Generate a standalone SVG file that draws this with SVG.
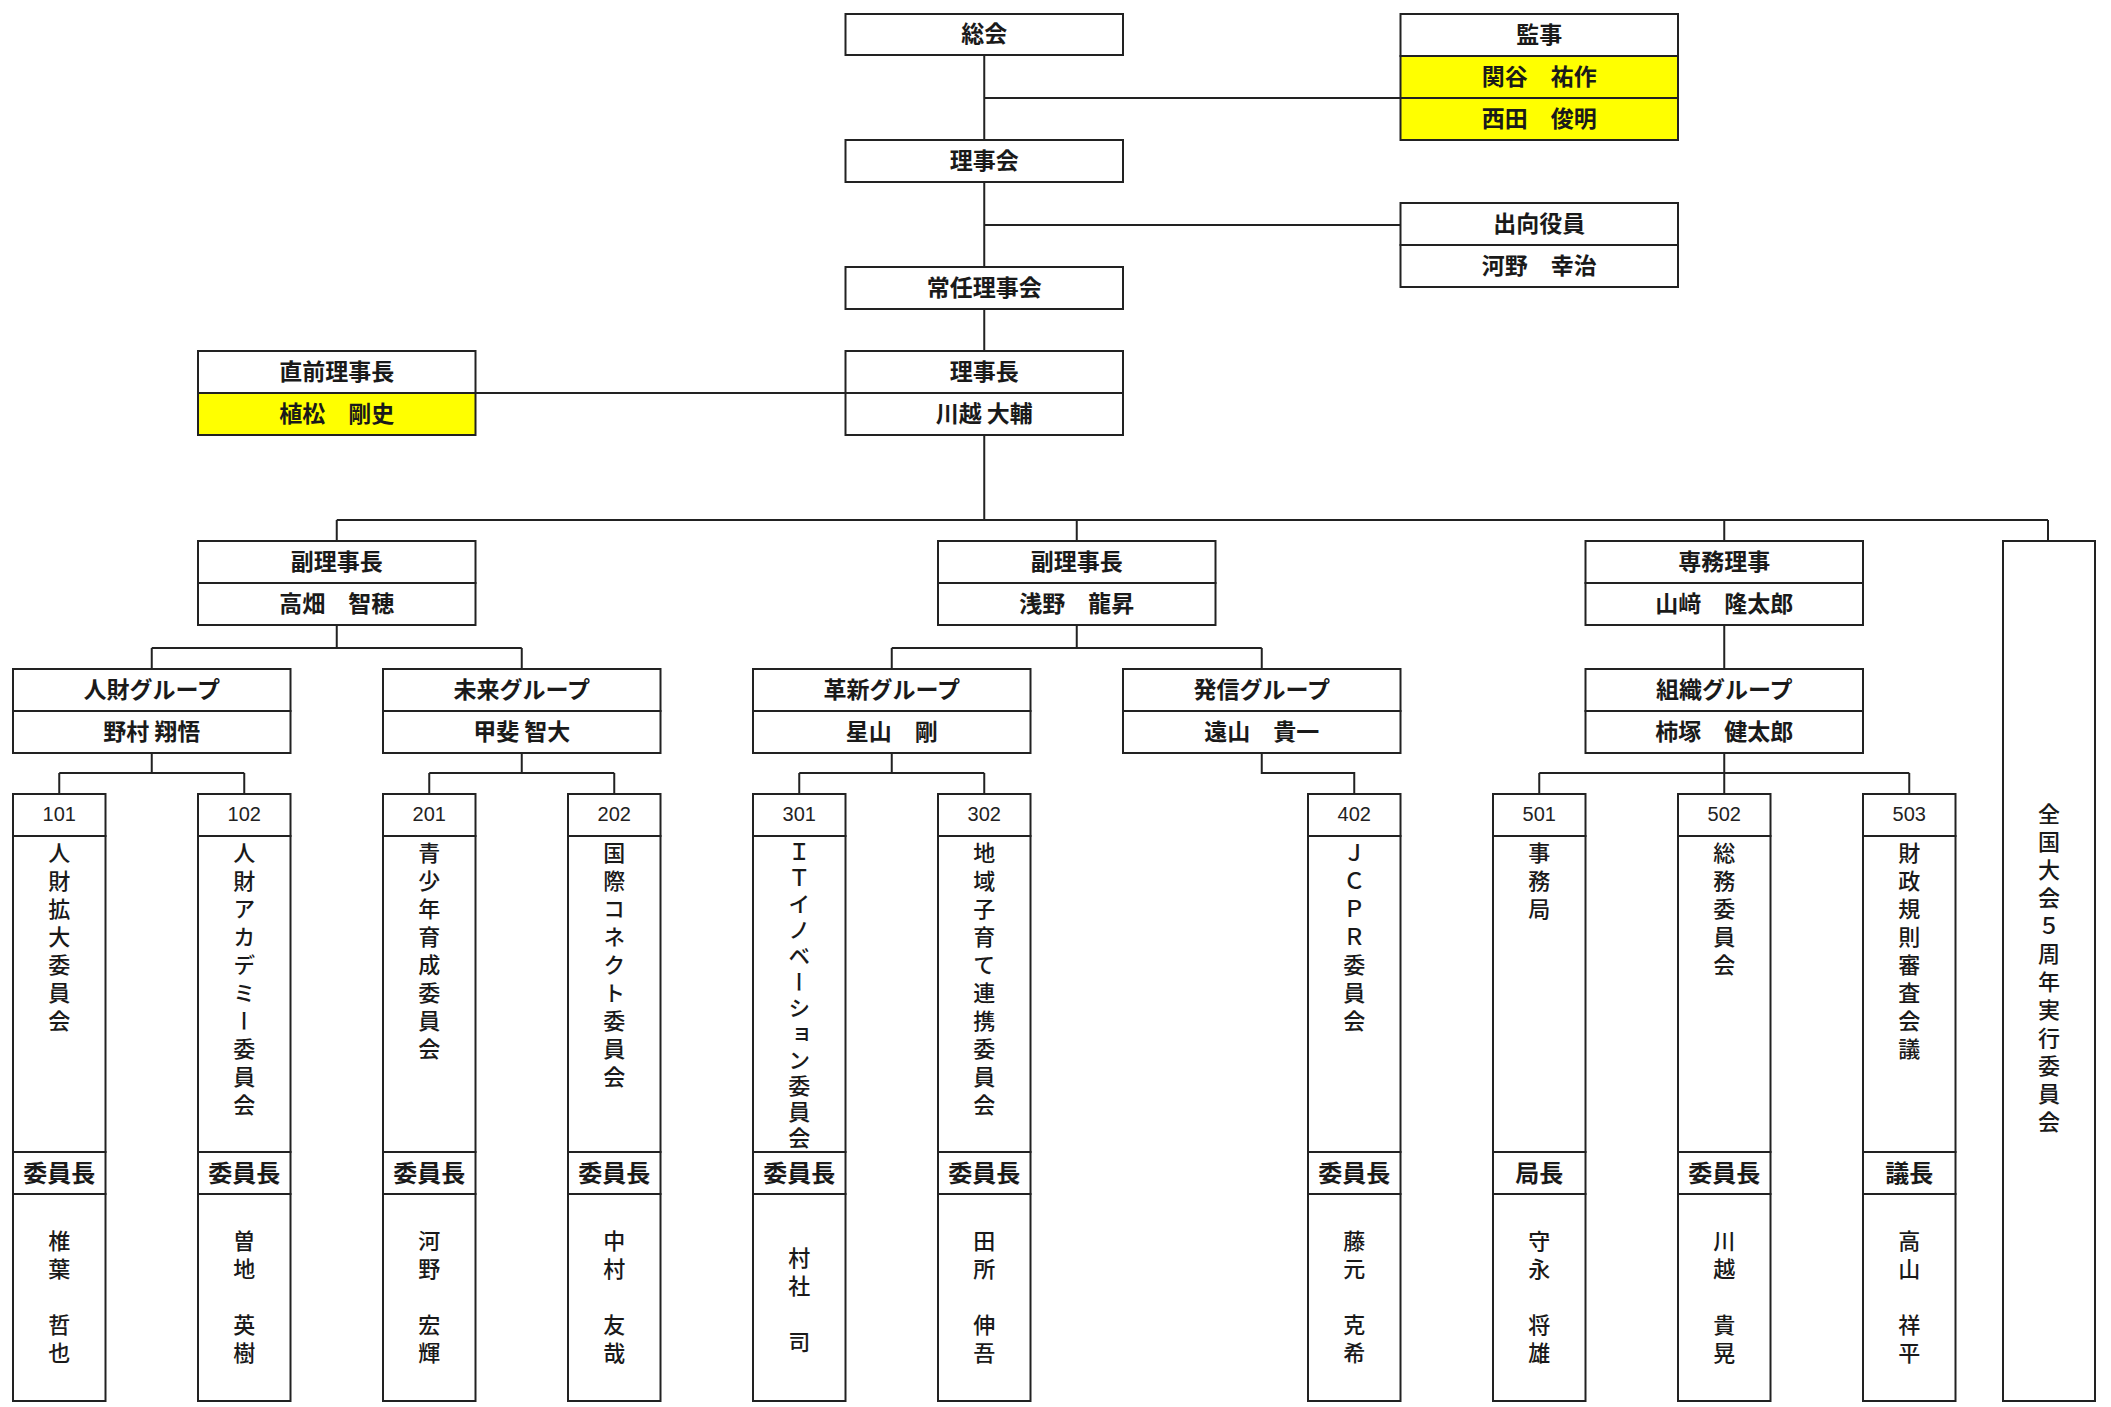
<svg xmlns="http://www.w3.org/2000/svg" width="2111" height="1407" viewBox="0 0 2111 1407">
<style>
.box{fill:#fff;stroke:#222;stroke-width:2}
.yel{fill:#ffff00;stroke:#222;stroke-width:2}
.ln{fill:none;stroke:#222;stroke-width:2}
.t{font-family:"Noto Sans CJK JP","Noto Sans CJK SC",sans-serif;font-size:23px;font-weight:bold;text-anchor:middle;dominant-baseline:central;fill:#1a1a1a}
.c{font-family:"Noto Sans CJK JP","Noto Sans CJK SC",sans-serif;font-size:24px;font-weight:bold;text-anchor:middle;dominant-baseline:central;fill:#1a1a1a}
.n{font-family:"Liberation Sans",Arial,sans-serif;font-size:20px;text-anchor:middle;dominant-baseline:central;fill:#222}
.v{font-family:"Noto Sans CJK JP","Noto Sans CJK SC",sans-serif;font-size:22px;font-weight:500;writing-mode:vertical-rl;letter-spacing:6px;fill:#1a1a1a}
.vm{text-anchor:middle}
.vs{letter-spacing:4px}
</style>
<rect width="2111" height="1407" fill="#fff"/>
<g id="connectors">
<path class="ln" d="M984.25 55V520 M984.25 98H1400.5 M984.25 225H1400.5 M475.5 393H845.5 M336.75 520H2048 M336.75 520V541 M1076.75 520V541 M1724.25 520V541 M2048 520V541"/>
<path class="ln" d="M336.75 625V648 M151.75 648H521.75 M151.75 648V669 M521.75 648V669 M1076.75 625V648 M891.75 648H1261.75 M891.75 648V669 M1261.75 648V669 M1724.25 625V669"/>
<path class="ln" d="M151.75 753V773 M59.25 773H244.25 M59.25 773V794 M244.25 773V794 M521.75 753V773 M429.25 773H614.25 M429.25 773V794 M614.25 773V794 M891.75 753V773 M799.25 773H984.25 M799.25 773V794 M984.25 773V794 M1261.75 753V773H1354.25V794 M1724.25 753V794 M1539.25 773H1909.25 M1539.25 773V794 M1909.25 773V794"/>
</g>
<g id="sokai"><rect class="box" x="845.5" y="14" width="277.5" height="41"/><text class="t" x="984.25" y="32">総会</text></g>
<g id="kanji"><rect class="box" x="1400.5" y="14" width="277.5" height="42"/><rect class="yel" x="1400.5" y="56" width="277.5" height="42"/><rect class="yel" x="1400.5" y="98" width="277.5" height="42"/><text class="t" x="1539.25" y="33">監事</text><text class="t" x="1539.25" y="75">関谷　祐作</text><text class="t" x="1539.25" y="117">西田　俊明</text></g>
<g id="rijikai"><rect class="box" x="845.5" y="140" width="277.5" height="42"/><text class="t" x="984.25" y="159">理事会</text></g>
<g id="shukko"><rect class="box" x="1400.5" y="203" width="277.5" height="42"/><rect class="box" x="1400.5" y="245" width="277.5" height="42"/><text class="t" x="1539.25" y="222">出向役員</text><text class="t" x="1539.25" y="264">河野　幸治</text></g>
<g id="jonin"><rect class="box" x="845.5" y="267" width="277.5" height="42"/><text class="t" x="984.25" y="286">常任理事会</text></g>
<g id="rijicho"><rect class="box" x="845.5" y="351" width="277.5" height="42"/><rect class="box" x="845.5" y="393" width="277.5" height="42"/><text class="t" x="984.25" y="370">理事長</text><text class="t" x="984.25" y="412">川越 大輔</text></g>
<g id="chokuzen"><rect class="box" x="198" y="351" width="277.5" height="42"/><rect class="yel" x="198" y="393" width="277.5" height="42"/><text class="t" x="336.75" y="370">直前理事長</text><text class="t" x="336.75" y="412">植松　剛史</text></g>
<g id="fuku1"><rect class="box" x="198" y="541" width="277.5" height="42"/><rect class="box" x="198" y="583" width="277.5" height="42"/><text class="t" x="336.75" y="560">副理事長</text><text class="t" x="336.75" y="602">高畑　智穂</text></g>
<g id="fuku2"><rect class="box" x="938" y="541" width="277.5" height="42"/><rect class="box" x="938" y="583" width="277.5" height="42"/><text class="t" x="1076.75" y="560">副理事長</text><text class="t" x="1076.75" y="602">浅野　龍昇</text></g>
<g id="senmu"><rect class="box" x="1585.5" y="541" width="277.5" height="42"/><rect class="box" x="1585.5" y="583" width="277.5" height="42"/><text class="t" x="1724.25" y="560">専務理事</text><text class="t" x="1724.25" y="602">山﨑　隆太郎</text></g>
<g id="zenkoku"><rect class="box" x="2003" y="541" width="92" height="860"/><text class="v vm" x="2049" y="971">全国大会５周年実行委員会</text></g>
<g id="g-jinzai"><rect class="box" x="13" y="669" width="277.5" height="42"/><rect class="box" x="13" y="711" width="277.5" height="42"/><text class="t" x="151.75" y="688">人財グループ</text><text class="t" x="151.75" y="730">野村 翔悟</text></g>
<g id="g-mirai"><rect class="box" x="383" y="669" width="277.5" height="42"/><rect class="box" x="383" y="711" width="277.5" height="42"/><text class="t" x="521.75" y="688">未来グループ</text><text class="t" x="521.75" y="730">甲斐 智大</text></g>
<g id="g-kakushin"><rect class="box" x="753" y="669" width="277.5" height="42"/><rect class="box" x="753" y="711" width="277.5" height="42"/><text class="t" x="891.75" y="688">革新グループ</text><text class="t" x="891.75" y="730">星山　剛</text></g>
<g id="g-hasshin"><rect class="box" x="1123" y="669" width="277.5" height="42"/><rect class="box" x="1123" y="711" width="277.5" height="42"/><text class="t" x="1261.75" y="688">発信グループ</text><text class="t" x="1261.75" y="730">遠山　貴一</text></g>
<g id="g-soshiki"><rect class="box" x="1585.5" y="669" width="277.5" height="42"/><rect class="box" x="1585.5" y="711" width="277.5" height="42"/><text class="t" x="1724.25" y="688">組織グループ</text><text class="t" x="1724.25" y="730">柿塚　健太郎</text></g>
<g id="c101"><rect class="box" x="13" y="794" width="92.5" height="42"/><rect class="box" x="13" y="836" width="92.5" height="316"/><rect class="box" x="13" y="1152" width="92.5" height="42"/><rect class="box" x="13" y="1194" width="92.5" height="207"/><text class="n" x="59.25" y="814">101</text><text class="v" x="59.25" y="842">人財拡大委員会</text><text class="c" x="59.25" y="1171">委員長</text><text class="v vm" x="59.25" y="1300">椎葉　哲也</text></g>
<g id="c102"><rect class="box" x="198" y="794" width="92.5" height="42"/><rect class="box" x="198" y="836" width="92.5" height="316"/><rect class="box" x="198" y="1152" width="92.5" height="42"/><rect class="box" x="198" y="1194" width="92.5" height="207"/><text class="n" x="244.25" y="814">102</text><text class="v" x="244.25" y="842">人財アカデミー委員会</text><text class="c" x="244.25" y="1171">委員長</text><text class="v vm" x="244.25" y="1300">曽地　英樹</text></g>
<g id="c201"><rect class="box" x="383" y="794" width="92.5" height="42"/><rect class="box" x="383" y="836" width="92.5" height="316"/><rect class="box" x="383" y="1152" width="92.5" height="42"/><rect class="box" x="383" y="1194" width="92.5" height="207"/><text class="n" x="429.25" y="814">201</text><text class="v" x="429.25" y="842">青少年育成委員会</text><text class="c" x="429.25" y="1171">委員長</text><text class="v vm" x="429.25" y="1300">河野　宏輝</text></g>
<g id="c202"><rect class="box" x="568" y="794" width="92.5" height="42"/><rect class="box" x="568" y="836" width="92.5" height="316"/><rect class="box" x="568" y="1152" width="92.5" height="42"/><rect class="box" x="568" y="1194" width="92.5" height="207"/><text class="n" x="614.25" y="814">202</text><text class="v" x="614.25" y="842">国際コネクト委員会</text><text class="c" x="614.25" y="1171">委員長</text><text class="v vm" x="614.25" y="1300">中村　友哉</text></g>
<g id="c301"><rect class="box" x="753" y="794" width="92.5" height="42"/><rect class="box" x="753" y="836" width="92.5" height="316"/><rect class="box" x="753" y="1152" width="92.5" height="42"/><rect class="box" x="753" y="1194" width="92.5" height="207"/><text class="n" x="799.25" y="814">301</text><text class="v vs" x="799.25" y="841">ＩＴイノベーション委員会</text><text class="c" x="799.25" y="1171">委員長</text><text class="v vm" x="799.25" y="1303">村社　司</text></g>
<g id="c302"><rect class="box" x="938" y="794" width="92.5" height="42"/><rect class="box" x="938" y="836" width="92.5" height="316"/><rect class="box" x="938" y="1152" width="92.5" height="42"/><rect class="box" x="938" y="1194" width="92.5" height="207"/><text class="n" x="984.25" y="814">302</text><text class="v" x="984.25" y="842">地域子育て連携委員会</text><text class="c" x="984.25" y="1171">委員長</text><text class="v vm" x="984.25" y="1300">田所　伸吾</text></g>
<g id="c402"><rect class="box" x="1308" y="794" width="92.5" height="42"/><rect class="box" x="1308" y="836" width="92.5" height="316"/><rect class="box" x="1308" y="1152" width="92.5" height="42"/><rect class="box" x="1308" y="1194" width="92.5" height="207"/><text class="n" x="1354.25" y="814">402</text><text class="v" x="1354.25" y="842">ＪＣＰＲ委員会</text><text class="c" x="1354.25" y="1171">委員長</text><text class="v vm" x="1354.25" y="1300">藤元　克希</text></g>
<g id="c501"><rect class="box" x="1493" y="794" width="92.5" height="42"/><rect class="box" x="1493" y="836" width="92.5" height="316"/><rect class="box" x="1493" y="1152" width="92.5" height="42"/><rect class="box" x="1493" y="1194" width="92.5" height="207"/><text class="n" x="1539.25" y="814">501</text><text class="v" x="1539.25" y="842">事務局</text><text class="c" x="1539.25" y="1171">局長</text><text class="v vm" x="1539.25" y="1300">守永　将雄</text></g>
<g id="c502"><rect class="box" x="1678" y="794" width="92.5" height="42"/><rect class="box" x="1678" y="836" width="92.5" height="316"/><rect class="box" x="1678" y="1152" width="92.5" height="42"/><rect class="box" x="1678" y="1194" width="92.5" height="207"/><text class="n" x="1724.25" y="814">502</text><text class="v" x="1724.25" y="842">総務委員会</text><text class="c" x="1724.25" y="1171">委員長</text><text class="v vm" x="1724.25" y="1300">川越　貴晃</text></g>
<g id="c503"><rect class="box" x="1863" y="794" width="92.5" height="42"/><rect class="box" x="1863" y="836" width="92.5" height="316"/><rect class="box" x="1863" y="1152" width="92.5" height="42"/><rect class="box" x="1863" y="1194" width="92.5" height="207"/><text class="n" x="1909.25" y="814">503</text><text class="v" x="1909.25" y="842">財政規則審査会議</text><text class="c" x="1909.25" y="1171">議長</text><text class="v vm" x="1909.25" y="1300">高山　祥平</text></g>
</svg>
